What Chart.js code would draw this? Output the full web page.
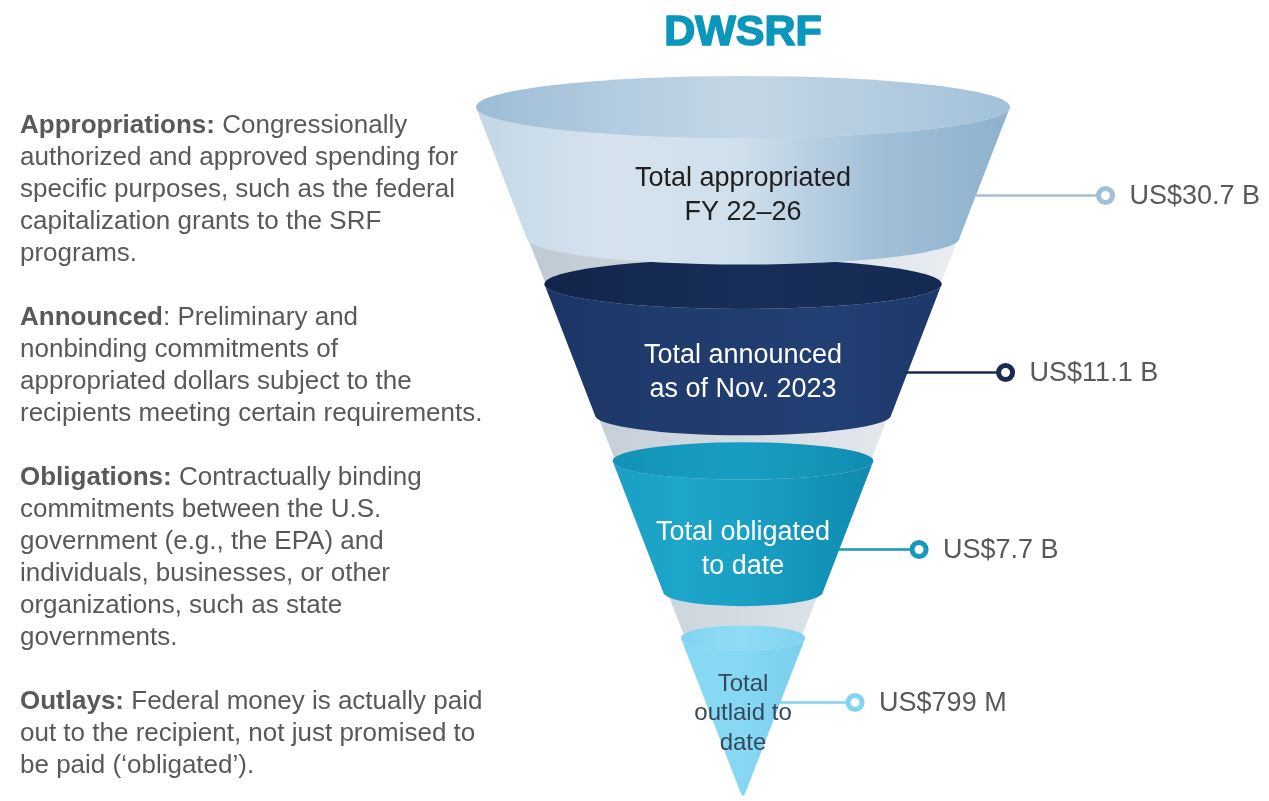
<!DOCTYPE html>
<html>
<head>
<meta charset="utf-8">
<title>DWSRF</title>
<script src="https://cdn.jsdelivr.net/npm/chart.js@4.4.0/dist/chart.umd.min.js"></script>
<style>
  html, body { margin: 0; padding: 0; background: #fff; }
  #wrap { position: relative; width: 1269px; height: 801px; overflow: hidden; }
  #chart-box { position: absolute; left: 0; top: 0; width: 1269px; height: 801px; }
  #notes {
    position: absolute; left: 20px; top: 108px; z-index: 2;
    font: 26px "Liberation Sans", Arial, sans-serif; line-height: 32px;
    color: #595959; white-space: nowrap;
  }
  #notes p { margin: 0 0 32px 0; }
</style>
</head>
<body>
<div id="wrap">
  <div id="chart-box"><canvas id="funnel"></canvas></div>
  <div id="notes">
    <p><b>Appropriations:</b> Congressionally<br>authorized and approved spending for<br>specific purposes, such as the federal<br>capitalization grants to the SRF<br>programs.</p>
    <p><b>Announced</b>: Preliminary and<br>nonbinding commitments of<br>appropriated dollars subject to the<br>recipients meeting certain requirements.</p>
    <p><b>Obligations:</b> Contractually binding<br>commitments between the U.S.<br>government (e.g., the EPA) and<br>individuals, businesses, or other<br>organizations, such as state<br>governments.</p>
    <p><b>Outlays:</b> Federal money is actually paid<br>out to the recipient, not just promised to<br>be paid (‘obligated’).</p>
  </div>
</div>
<script>
// Daten des Trichters
const chartTitle = 'DWSRF';
const stages = ['Appropriated', 'Announced', 'Obligated', 'Outlaid'];
const stageLines = [
    ['Total appropriated', 'FY 22–26'],
    ['Total announced', 'as of Nov. 2023'],
    ['Total obligated', 'to date'],
    ['Total', 'outlaid to', 'date']
];
const amounts = [30.7e9, 11.1e9, 7.7e9, 799e6]; // US$

// Farben je Stufe
const bodyStops = [
    ['#c4d7e7', '#d6e3ee', '#cfdfeb', '#a2c0d8', '#8db1cd'],
    ['#1c3566', '#1f3a6c', '#213d70', '#223f73', '#1d3769'],
    ['#1aa0c4', '#1ca6c9', '#1aa1c5', '#1595bb', '#1089af'],
    ['#84d7f2', '#88d9f3', '#86d8f2', '#80d3ef', '#7ccfec']
];
const rimStops = [
    ['#9dbdd6', '#b2cbdf', '#c3d6e5', '#b4cce0', '#a2c1d9'],
    ['#122449', '#152a52', '#182e58', '#172d56', '#142850'],
    ['#1391b6', '#1699be', '#189dc2', '#1596bb', '#118bb1'],
    ['#7fd3ef', '#8ad9f2', '#8fdcf4', '#88d8f2', '#7fd2ee']
];
const lineColors = ['#a3bfd6', '#1b2a4d', '#1798bf', '#7fd6f2'];
const textColors = ['#1f1f1f', '#ffffff', '#ffffff', '#34495e'];

// Trichter-Geometrie (Stufen als Tiefe 0..APEX)
const APEX = 3.91;
const SPAN = 0.74;
const X_MIN = -2.783, X_MAX = 1.970;
const Y_MIN = -0.6045, Y_MAX = 3.921;

const halfWidth = d => (APEX - d) / APEX;
const labelDepth = i => i + Math.min(0.5, (APEX - i) * 0.4);
const textDepth = i => i + Math.min(0.5, (APEX - i) * 0.47);
function ringX(i) {
    const hw = halfWidth(labelDepth(i));
    const t = (hw - 0.14) / 0.74;
    return hw + 0.28 + 0.21 * t * t;
}

function formatAmount(v) {
    if (v >= 1e9) return 'US$' + (v / 1e9).toFixed(1) + ' B';
    return 'US$' + Math.round(v / 1e6) + ' M';
}

const ringPoints = stages.map((s, i) => ({ x: ringX(i), y: labelDepth(i) }));

function gradient(ctx, x0, x1, stops) {
    const g = ctx.createLinearGradient(x0, 0, x1, 0);
    stops.forEach((c, k) => g.addColorStop(k / (stops.length - 1), c));
    return g;
}

const funnelPlugin = {
    id: 'funnel',
    beforeDatasetsDraw(chart) {
        const { ctx, scales: { x, y } } = chart;
        const cx = x.getPixelForValue(0);
        const hwPx = d => x.getPixelForValue(halfWidth(d)) - cx;
        const ry = rx => rx * 0.09 + 7;
        const last = stages.length - 1;

        ctx.save();

        // Hintergrund-Kegel (Innenwand)
        const topY = y.getPixelForValue(0), tipY = y.getPixelForValue(APEX - 0.08);
        const r0 = hwPx(0);
        ctx.beginPath();
        ctx.moveTo(cx - r0, topY);
        ctx.lineTo(cx, tipY);
        ctx.lineTo(cx + r0, topY);
        ctx.closePath();
        ctx.fillStyle = gradient(ctx, cx - r0, cx + r0, ['#b9c5d0', '#cbd4dc', '#dde3e9', '#eef1f4']);
        ctx.fill();

        // Segmente von unten nach oben
        for (let i = last; i >= 0; i--) {
            const d0 = i;
            const d1 = i === last ? APEX : i + SPAN;
            const ty = y.getPixelForValue(d0), by = y.getPixelForValue(d1);
            const rt = hwPx(d0), rb = hwPx(d1);
            const et = ry(rt), eb = ry(rb);

            ctx.beginPath();
            ctx.moveTo(cx - rt, ty);
            if (i === last) {
                ctx.arcTo(cx, by, cx + rt, ty, 2);
            } else {
                ctx.lineTo(cx - rb, by);
                ctx.ellipse(cx, by, rb, eb, 0, Math.PI, 0, true);
            }
            ctx.lineTo(cx + rt, ty);
            ctx.ellipse(cx, ty, rt, et, 0, 0, Math.PI, false);
            ctx.closePath();
            ctx.fillStyle = gradient(ctx, cx - rt, cx + rt, bodyStops[i]);
            ctx.fill();

            ctx.beginPath();
            ctx.ellipse(cx, ty, rt, et, 0, 0, Math.PI * 2);
            ctx.fillStyle = gradient(ctx, cx - rt, cx + rt, rimStops[i]);
            ctx.fill();
        }

        // Verbindungslinien zu den Werten
        const meta = chart.getDatasetMeta(0);
        stages.forEach((s, i) => {
            const d = labelDepth(i);
            const py = y.getPixelForValue(d);
            ctx.beginPath();
            ctx.moveTo(cx + hwPx(d) - 2, py);
            ctx.lineTo(meta.data[i].x, py);
            ctx.lineWidth = 2.5;
            ctx.strokeStyle = lineColors[i];
            ctx.stroke();
        });

        // Beschriftung im Trichter
        ctx.textAlign = 'center';
        ctx.textBaseline = 'middle';
        stageLines.forEach((lines, i) => {
            const size = i === last ? 24 : 27;
            const lh = i === last ? 29.5 : 33.5;
            const mid = y.getPixelForValue(textDepth(i));
            ctx.font = size + 'px "Liberation Sans", Arial, sans-serif';
            ctx.fillStyle = textColors[i];
            lines.forEach((t, k) => {
                ctx.fillText(t, cx, mid + (k - (lines.length - 1) / 2) * lh);
            });
        });

        ctx.restore();
    },
    afterDatasetsDraw(chart) {
        const { ctx, scales: { x } } = chart;
        const meta = chart.getDatasetMeta(0);
        ctx.save();
        ctx.font = '27px "Liberation Sans", Arial, sans-serif';
        ctx.fillStyle = '#595959';
        ctx.textAlign = 'left';
        ctx.textBaseline = 'middle';
        meta.data.forEach((pt, i) => {
            ctx.fillText(formatAmount(amounts[i]), pt.x + 24, pt.y + 1);
        });

        // Titel
        ctx.font = 'bold 43px "Liberation Sans", Arial, sans-serif';
        ctx.fillStyle = '#0a97bb';
        ctx.strokeStyle = '#0a97bb';
        ctx.lineWidth = 1.6;
        ctx.lineJoin = 'round';
        ctx.textAlign = 'center';
        ctx.textBaseline = 'alphabetic';
        ctx.fillText(chartTitle, x.getPixelForValue(0), 45);
        ctx.strokeText(chartTitle, x.getPixelForValue(0), 45);
        ctx.restore();
    }
};

new Chart(document.getElementById('funnel'), {
    type: 'scatter',
    data: {
        datasets: [{
            label: 'Amount',
            data: ringPoints,
            pointStyle: 'circle',
            pointRadius: 7,
            pointHoverRadius: 7,
            pointBorderWidth: 5,
            pointBackgroundColor: '#ffffff',
            pointBorderColor: lineColors
        }]
    },
    options: {
        responsive: true,
        maintainAspectRatio: false,
        animation: false,
        events: [],
        layout: { padding: 0, autoPadding: false },
        plugins: {
            legend: { display: false },
            tooltip: { enabled: false },
            title: { display: false }
        },
        scales: {
            x: { type: 'linear', display: false, min: X_MIN, max: X_MAX },
            y: { type: 'linear', display: false, reverse: true, min: Y_MIN, max: Y_MAX }
        }
    },
    plugins: [funnelPlugin]
});
</script>
</body>
</html>
